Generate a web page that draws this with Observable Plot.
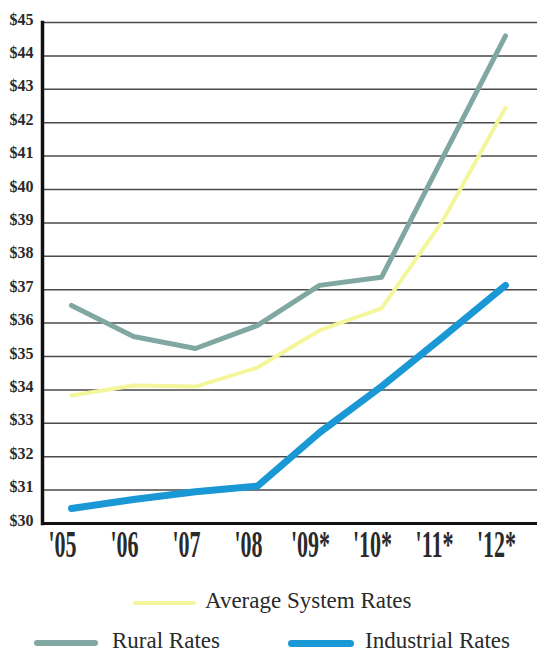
<!DOCTYPE html>
<html>
<head>
<meta charset="utf-8">
<script src="https://cdn.jsdelivr.net/npm/d3@7"></script>
<script src="https://cdn.jsdelivr.net/npm/@observablehq/plot@0.6"></script>
<style>
  html, body { margin: 0; padding: 0; background: #fff; }
  #wrap { position: relative; width: 542px; height: 653px; }
  .leg { position: absolute; font-family: "Liberation Serif", serif; font-size: 23px; color: #2a2a2a; line-height: 1; white-space: nowrap; }
  .sw { position: absolute; border-radius: 4px; }
</style>
</head>
<body>
<div id="wrap">
  <div id="chart"></div>
</div>
<script>
const years = ["'05", "'06", "'07", "'08", "'09*", "'10*", "'11*", "'12*"];
const ruralRates = [36.53, 35.6, 35.24, 35.93, 37.13, 37.37, 41.0, 44.6];
const averageRates = [33.83, 34.13, 34.1, 34.67, 35.78, 36.44, 39.1, 42.45];
const industrialRates = [30.45, 30.72, 30.95, 31.12, 32.72, 34.1, 35.6, 37.13];
const yTicks = [30, 31, 32, 33, 34, 35, 36, 37, 38, 39, 40, 41, 42, 43, 44, 45];
const seriesNames = ["Average System Rates", "Rural Rates", "Industrial Rates"];
const seriesColors = ["#f4f69c", "#80a7a1", "#1a98d5"];

const rows = [];
years.forEach((yr, i) => {
  rows.push({year: yr, value: ruralRates[i], series: seriesNames[1]});
  rows.push({year: yr, value: averageRates[i], series: seriesNames[0]});
  rows.push({year: yr, value: industrialRates[i], series: seriesNames[2]});
});
const bySeries = name => rows.filter(d => d.series === name);

const W = 542, H = 570, ML = 42, MR = 5, MT = 22, MB = 47;

const chart = Plot.plot({
  width: W,
  height: H,
  marginLeft: ML,
  marginRight: MR,
  marginTop: MT,
  marginBottom: MB,
  x: {type: "point", domain: years, range: [68, 507], padding: 0, label: null},
  y: {domain: [30, 45], label: null},
  marks: [
    Plot.ruleY(yTicks.slice(1), {stroke: "#4a4a4a", strokeWidth: 1.5}),
    Plot.line(bySeries(seriesNames[1]), {x: "year", y: "value", stroke: seriesColors[1], strokeWidth: 5, strokeLinejoin: "round", strokeLinecap: "round"}),
    Plot.line(bySeries(seriesNames[0]), {x: "year", y: "value", stroke: seriesColors[0], strokeWidth: 4, strokeLinejoin: "round", strokeLinecap: "round"}),
    Plot.line(bySeries(seriesNames[2]), {x: "year", y: "value", stroke: seriesColors[2], strokeWidth: 7, strokeLinejoin: "round", strokeLinecap: "round"}),
    Plot.ruleY([yTicks[0]], {stroke: "#111", strokeWidth: 3}),
    Plot.frame({anchor: "left", stroke: "#111", strokeWidth: 3.5}),
    Plot.axisY({ticks: yTicks, tickFormat: d => "$" + d, tickSize: 0, tickPadding: 9, dy: -3, label: null,
      fontSize: 16, fontWeight: "bold", fontFamily: "Liberation Serif", fill: "#2a2a2a"}),
    Plot.axisX({tickSize: 0, tickPadding: 7, fontSize: 38, fontWeight: "bold", fontFamily: "Liberation Serif",
      fill: "#2a2a2a", dx: -9, label: null})
  ]
});
document.getElementById("chart").appendChild(chart);

// condense the heavy x tick labels
chart.querySelectorAll('g[aria-label="x-axis tick label"] text').forEach(t => {
  const tr = t.getAttribute("transform") || "";
  t.setAttribute("transform", tr + " scale(0.58,1)");
});

// legend
const wrap = document.getElementById("wrap");
const legendItems = [
  {name: seriesNames[0], color: seriesColors[0], sx: 133, sw: 63, th: 4, tx: 205, y: 602},
  {name: seriesNames[1], color: seriesColors[1], sx: 34, sw: 64, th: 6, tx: 112, y: 642},
  {name: seriesNames[2], color: seriesColors[2], sx: 288, sw: 66, th: 7, tx: 365, y: 642}
];
legendItems.forEach(it => {
  const s = document.createElement("div");
  s.className = "sw";
  s.style.left = it.sx + "px";
  s.style.width = it.sw + "px";
  s.style.height = it.th + "px";
  s.style.top = (it.y - it.th / 2 + 1) + "px";
  s.style.background = it.color;
  wrap.appendChild(s);
  const t = document.createElement("div");
  t.className = "leg";
  t.textContent = it.name;
  t.style.left = it.tx + "px";
  t.style.top = (it.y - 13) + "px";
  wrap.appendChild(t);
});
</script>
</body>
</html>
